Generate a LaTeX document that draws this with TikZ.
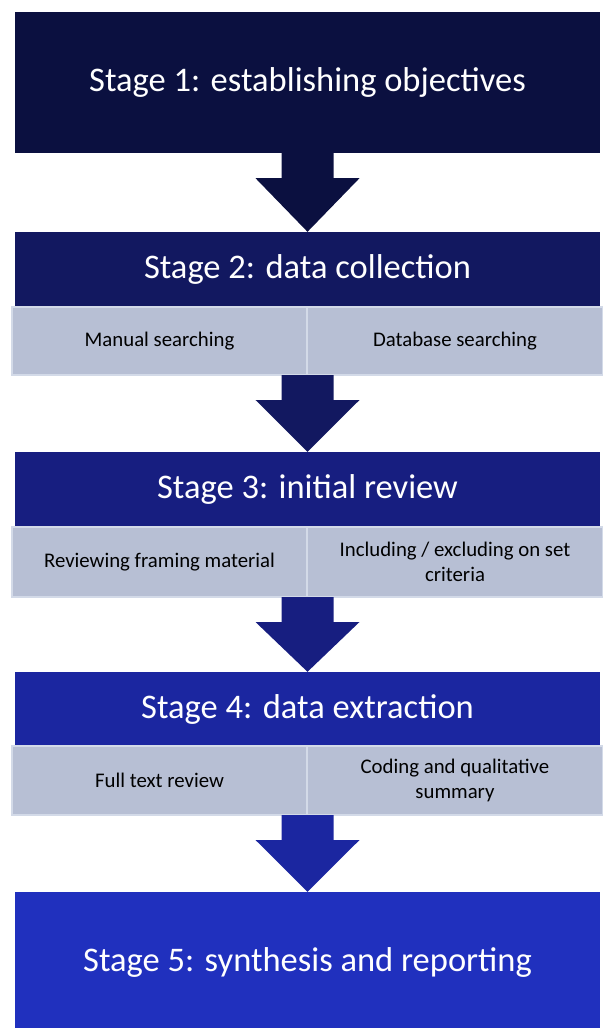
\documentclass[tikz,border=0pt]{standalone}
\usepackage{fontspec}
\setmainfont{Carlito}
\usetikzlibrary{calc}
\definecolor{c1}{HTML}{0B1040}
\definecolor{c2}{HTML}{121860}
\definecolor{c3}{HTML}{171E80}
\definecolor{c4}{HTML}{1B26A0}
\definecolor{c5}{HTML}{2030BE}
\definecolor{subfill}{HTML}{B7BFD4}
\definecolor{subline}{HTML}{D3DAE8}
\tikzset{
  header/.style={fill=#1, text=white, minimum width=585pt, inner sep=0pt, font=\fontsize{34.5}{40}\selectfont},
  subbox/.style={fill=subfill, draw=subline, line width=1.2pt, minimum width=295pt, align=center, inner sep=0pt, font=\fontsize{20.8}{25}\selectfont, text=black},
}
\newcommand{\blockarrow}[3]{%
  \fill[#3] ($(#1.south)+(-26pt,0)$) -- ($(#1.south)+(26pt,0)$) -- ($(#1.south)+(26pt,-25pt)$) -- ($(#1.south)+(52pt,-25pt)$) -- (#2.north) -- ($(#1.south)+(-52pt,-25pt)$) -- ($(#1.south)+(-26pt,-25pt)$) -- cycle;}
\begin{document}
\begin{tikzpicture}[x=1pt,y=1pt]
\useasboundingbox (0,0) rectangle (603,-1028);
% Stage 1
\node[header=c1, minimum height=141pt] (h1) at (307.5,-82.5) {Stage 1: establishing objectives};
% Stage 2
\node[header=c2, minimum height=75pt] (h2) at (307.5,-269.5) {Stage 2: data collection};
\node[subbox, minimum height=68pt] (s2a) at (159.5,-341) {Manual searching};
\node[subbox, minimum height=68pt] (s2b) at (455,-341) {Database searching};
\coordinate (s2) at (307.5,-375);
% Stage 3
\node[header=c3, minimum height=75pt] (h3) at (307.5,-489.5) {Stage 3: initial review};
\node[subbox, minimum height=70pt] (s3a) at (159.5,-562) {Reviewing framing material};
\node[subbox, minimum height=70pt] (s3b) at (455,-562) {Including / excluding on set\\criteria};
\coordinate (s3) at (307.5,-597);
% Stage 4
\node[header=c4, minimum height=74pt] (h4) at (307.5,-709) {Stage 4: data extraction};
\node[subbox, minimum height=69pt] (s4a) at (159.5,-780.5) {Full text review};
\node[subbox, minimum height=69pt] (s4b) at (455,-780.5) {Coding and qualitative\\summary};
\coordinate (s4) at (307.5,-815);
% Stage 5
\node[header=c5, minimum height=140pt] (h5) at (307.5,-962) {Stage 5: synthesis and reporting};
% arrows
\blockarrow{h1}{h2}{c1}
\blockarrow{s2}{h3}{c2}
\blockarrow{s3}{h4}{c3}
\blockarrow{s4}{h5}{c4}
\end{tikzpicture}
\end{document}
